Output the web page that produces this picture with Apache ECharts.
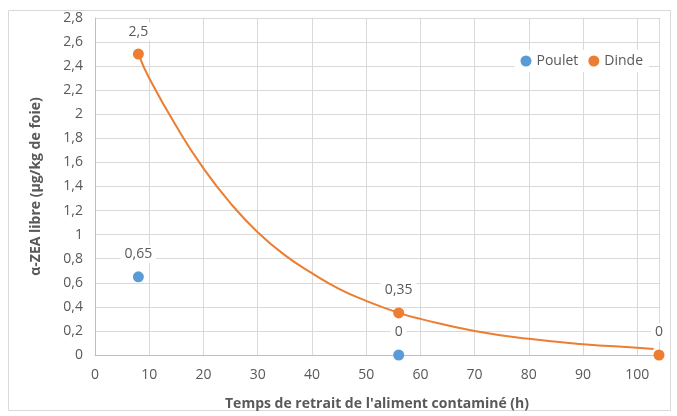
<!DOCTYPE html>
<html><head><meta charset="utf-8">
<script src="https://cdn.jsdelivr.net/npm/echarts@6/dist/echarts.min.js"></script>
<style>html,body{margin:0;padding:0;background:#fff}#c{width:677px;height:416px}</style>
</head><body><div id="c"></div>
<script>
const pouletX = [8, 56];
const pouletY = [0.65, 0];
const dindeX = [8, 56, 104];
const dindeY = [2.5, 0.35, 0];
// trend curve (Excel trendline on Dinde)
const trendX = [8, 10, 15, 20, 25, 30, 35, 40, 45, 50, 56, 60, 70, 80, 90, 100, 103];
const trendY = [2.5, 2.3, 1.9, 1.55, 1.26, 1.02, 0.83, 0.68, 0.55, 0.45, 0.35, 0.30, 0.20, 0.135, 0.09, 0.06, 0.05];
const yTicks = {min: 0, max: 2.8, step: 0.2};
const xTicks = {min: 0, max: 104, step: 10};

const fmtNum = v => String(+(+v).toFixed(2)).replace('.', ',');
const lbl = {show: true, position: 'top', distance: 8, color: '#595959', fontSize: 14,
  fontFamily: 'Open Sans', backgroundColor: '#fff', padding: [2, 4],
  formatter: p => fmtNum(p.value[1])};

const chart = echarts.init(document.getElementById('c'));
chart.setOption({
  animation: false,
  textStyle: {fontFamily: 'Open Sans'},
  graphic: [{type: 'rect', shape: {x: 8.5, y: 10.5, width: 662, height: 400},
    style: {fill: 'none', stroke: '#d9d9d9', lineWidth: 1}, z: -1}],
  grid: {left: 95, right: 18, top: 18, bottom: 59},
  legend: {top: 50, right: 28, itemWidth: 11, itemHeight: 11, itemGap: 10,
    backgroundColor: '#fff', padding: [4, 6],
    textStyle: {color: '#595959', fontSize: 14, fontFamily: 'Open Sans'},
    data: [{name: 'Poulet', icon: 'circle'}, {name: 'Dinde', icon: 'circle'}]},
  xAxis: {type: 'value', min: xTicks.min, max: xTicks.max, interval: xTicks.step,
    name: "Temps de retrait de l'aliment contaminé (h)", nameLocation: 'middle', nameGap: 42,
    nameTextStyle: {fontWeight: 'bold', color: '#595959', fontSize: 14},
    axisLine: {show: true, lineStyle: {color: '#bfbfbf'}}, axisTick: {show: false},
    axisLabel: {color: '#595959', fontSize: 14, margin: 13,
      formatter: v => (v % 10 === 0 ? String(v) : '')},
    splitLine: {show: true, lineStyle: {color: '#d9d9d9'}}},
  yAxis: {type: 'value', min: yTicks.min, max: yTicks.max, interval: yTicks.step,
    name: 'α-ZEA libre (µg/kg de foie)', nameLocation: 'middle', nameGap: 52,
    nameTextStyle: {fontWeight: 'bold', color: '#595959', fontSize: 14},
    axisLine: {show: true, lineStyle: {color: '#bfbfbf'}}, axisTick: {show: false},
    axisLabel: {color: '#595959', fontSize: 14, margin: 12, formatter: v => fmtNum(v)},
    splitLine: {show: true, lineStyle: {color: '#d9d9d9'}}},
  series: [
    {name: 'Dinde trend', type: 'line', smooth: true, showSymbol: false, silent: true,
      data: trendX.map((x, i) => [x, trendY[i]]),
      lineStyle: {color: '#ED7D31', width: 2}, z: 1},
    {name: 'Poulet', type: 'scatter', symbolSize: 11, itemStyle: {color: '#5B9BD5', opacity: 1},
      data: pouletX.map((x, i) => [x, pouletY[i]]), label: lbl, z: 3},
    {name: 'Dinde', type: 'scatter', symbolSize: 11, itemStyle: {color: '#ED7D31', opacity: 1},
      data: dindeX.map((x, i) => [x, dindeY[i]]), label: lbl, z: 3}
  ]
});
</script></body></html>
